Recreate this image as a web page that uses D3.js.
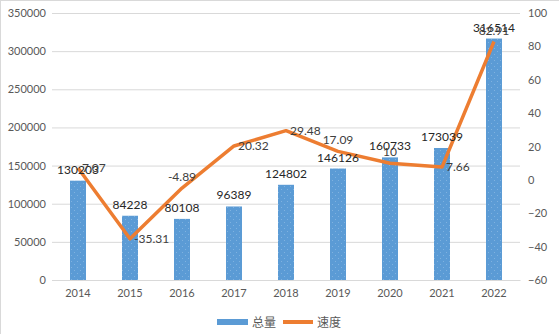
<!DOCTYPE html>
<html>
<head>
<meta charset="utf-8">
<title>总量与速度</title>
<script src="https://cdn.jsdelivr.net/npm/d3@7"></script>
<style>
  body { margin: 0; background: #fff; }
  text { font-family: Lato, "Noto Sans CJK SC", sans-serif; }
</style>
</head>
<body>
<svg width="559" height="334" id="mainsvg"></svg>
<script>
  const years = ['2014','2015','2016','2017','2018','2019','2020','2021','2022'];
  const totals = [130203, 84228, 80108, 96389, 124802, 146126, 160733, 173039, 316514];
  const speeds = [7.07, -35.31, -4.89, 20.32, 29.48, 17.09, 10, 7.66, 82.91];
  const leftTicks = [0, 50000, 100000, 150000, 200000, 250000, 300000, 350000];
  const rightTicks = [-60, -40, -20, 0, 20, 40, 60, 80, 100];

  const svg = d3.select('#mainsvg');
  const margin = {top: 13, right: 39, bottom: 54, left: 52};
  const width = +svg.attr('width');
  const height = +svg.attr('height');
  const innerWidth = width - margin.left - margin.right;
  const innerHeight = height - margin.top - margin.bottom;

  // chart frame (top and left edges show)
  svg.append('line').attr('x1', 0).attr('x2', width).attr('y1', 0.5).attr('y2', 0.5)
    .attr('stroke', '#d9d9d9');
  svg.append('line').attr('x1', 0.5).attr('x2', 0.5).attr('y1', 0).attr('y2', height)
    .attr('stroke', '#d9d9d9');

  const defs = svg.append('defs');
  const pat = defs.append('pattern').attr('id', 'dots').attr('patternUnits', 'userSpaceOnUse')
    .attr('width', 6).attr('height', 6);
  pat.append('rect').attr('width', 6).attr('height', 6).attr('fill', '#5b9bd5');
  pat.append('rect').attr('x', 1).attr('y', 2).attr('width', 1).attr('height', 1).attr('fill', '#7fb2e0');
  pat.append('rect').attr('x', 4).attr('y', 5).attr('width', 1).attr('height', 1).attr('fill', '#7fb2e0');

  const g = svg.append('g').attr('transform', `translate(${margin.left},${margin.top})`);

  const x = d3.scaleBand().domain(years).range([0, innerWidth]);
  const yL = d3.scaleLinear().domain([0, 350000]).range([innerHeight, 0]);
  const yR = d3.scaleLinear().domain([-60, 100]).range([innerHeight, 0]);

  // gridlines + left axis
  const leftAxis = d3.axisLeft(yL).tickValues(leftTicks).tickSize(-innerWidth).tickPadding(6)
    .tickFormat(d3.format('d'));
  const ga = g.append('g').call(leftAxis);
  ga.select('.domain').remove();
  ga.selectAll('.tick line').attr('stroke', '#d9d9d9');
  ga.selectAll('.tick text').attr('fill', '#595959').attr('font-size', 11);

  const rightAxis = d3.axisRight(yR).tickValues(rightTicks).tickSize(0).tickPadding(8);
  const gr = g.append('g').attr('transform', `translate(${innerWidth},0)`).call(rightAxis);
  gr.select('.domain').remove();
  gr.selectAll('.tick text').attr('fill', '#595959').attr('font-size', 11);

  const bottomAxis = d3.axisBottom(x).tickSize(0).tickPadding(9);
  const gb = g.append('g').attr('transform', `translate(0,${innerHeight})`).call(bottomAxis);
  gb.select('.domain').attr('stroke', '#d9d9d9');
  gb.selectAll('.tick text').attr('fill', '#595959').attr('font-size', 11);

  // bars
  const barW = 16;
  g.selectAll('.bar').data(totals).join('rect')
    .attr('class', 'bar')
    .attr('x', (d, i) => x(years[i]) + x.bandwidth() / 2 - barW / 2)
    .attr('y', d => yL(d))
    .attr('width', barW)
    .attr('height', d => innerHeight - yL(d))
    .attr('fill', 'url(#dots)');

  // line
  const line = d3.line()
    .x((d, i) => x(years[i]) + x.bandwidth() / 2)
    .y(d => yR(d));
  g.append('path').datum(speeds)
    .attr('d', line)
    .attr('fill', 'none')
    .attr('stroke', '#ed7d31')
    .attr('stroke-width', 3.5)
    .attr('stroke-linejoin', 'round');

  // bar value labels
  g.selectAll('.blabel').data(totals).join('text')
    .attr('class', 'blabel')
    .attr('x', (d, i) => x(years[i]) + x.bandwidth() / 2)
    .attr('y', d => yL(d) - 7)
    .attr('text-anchor', 'middle')
    .attr('font-size', 12)
    .attr('fill', '#262626')
    .text(d => d);

  // line value labels: 'r' = right of point, 't' = above
  const linePlace = ['r', 'r', 't', 'r', 'r', 't', 't', 'r', 't'];
  g.selectAll('.llabel').data(speeds).join('text')
    .attr('class', 'llabel')
    .attr('x', (d, i) => x(years[i]) + x.bandwidth() / 2 + (linePlace[i] === 'r' ? 4 : 0))
    .attr('y', (d, i) => yR(d) + (linePlace[i] === 'r' ? 4 : -7))
    .attr('text-anchor', (d, i) => linePlace[i] === 'r' ? 'start' : 'middle')
    .attr('font-size', 12)
    .attr('fill', '#404040')
    .text(d => d);

  // legend
  const lg = svg.append('g').attr('transform', 'translate(217,322)');
  lg.append('rect').attr('x', 0).attr('y', -3).attr('width', 31).attr('height', 6).attr('fill', '#5b9bd5');
  lg.append('text').attr('x', 35).attr('y', 4.5).attr('font-size', 12).attr('fill', '#595959').text('总量');
  lg.append('line').attr('x1', 66).attr('x2', 96).attr('y1', 0).attr('y2', 0)
    .attr('stroke', '#ed7d31').attr('stroke-width', 4);
  lg.append('text').attr('x', 100).attr('y', 4.5).attr('font-size', 12).attr('fill', '#595959').text('速度');
</script>
</body>
</html>
